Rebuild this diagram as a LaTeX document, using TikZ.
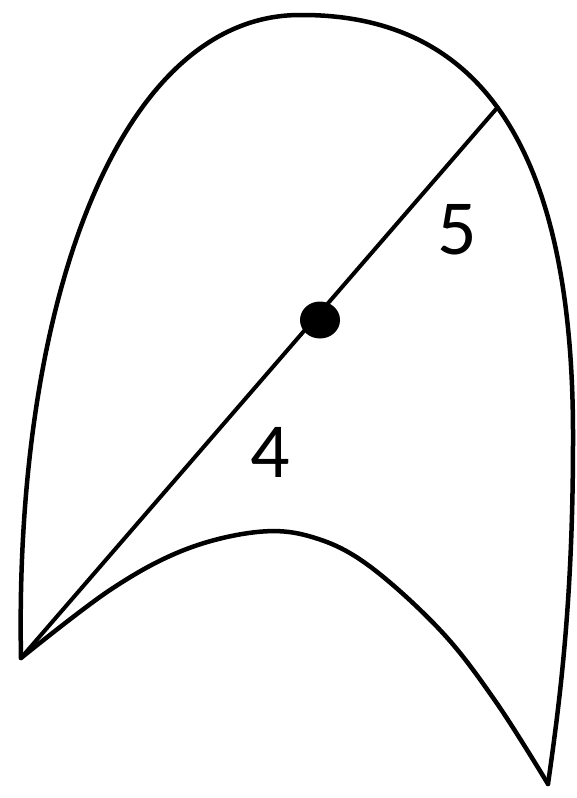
\documentclass[tikz,border=0pt]{standalone}
\usepackage{fontspec}
\setmainfont{Carlito}
\usetikzlibrary{shapes.geometric,intersections,calc}
\tikzset{
  curve/.style={line width=4.5pt, line join=round, line cap=round},
  lbl/.style={font=\fontsize{78}{78}\selectfont, inner sep=0pt},
  dotnode/.style={ellipse, fill=black, minimum width=40pt, minimum height=37pt, inner sep=0pt}
}
\begin{document}
\begin{tikzpicture}[x=1pt,y=-1pt]
\useasboundingbox (0,0) rectangle (576,798);
\coordinate (L) at (21,658);
\coordinate (T) at (300,15);
\coordinate (B) at (548,784);
\coordinate (R0) at (497,108);
\draw[curve, name path=outer] (L) .. controls (14,300) and (120,15) .. (T)
  .. controls (475,14) and (574,140) .. (573,440)
  .. controls (573,600) and (560,700) .. (B);
\draw[curve] plot[smooth, tension=0.6] coordinates {(21,658) (110,590) (184,550) (257,532) (312,537) (368,565) (441,631) (496,702) (548,784)};
\path[name path=ray] ($(L)!0.3!(R0)$) -- ($(L)!1.3!(R0)$);
\path[name intersections={of=outer and ray, by=R}];
\draw[curve, line width=4pt] (L) -- (R);
\node[dotnode] (d) at (320,320) {};
\node[lbl] (five) at (457,230) {5};
\node[lbl] (four) at (270,452) {4};
\end{tikzpicture}
\end{document}
